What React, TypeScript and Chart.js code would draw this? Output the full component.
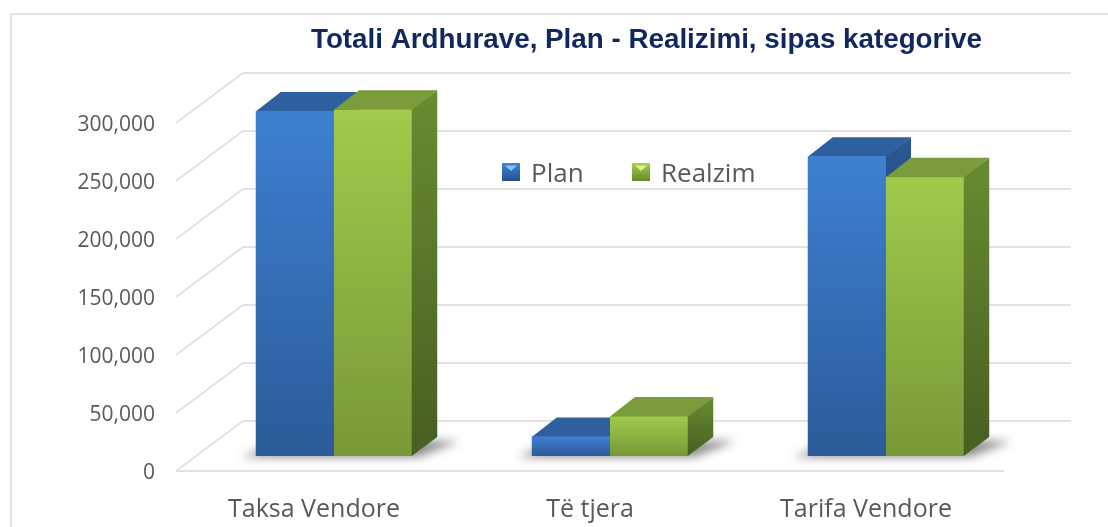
import React, { useEffect, useRef } from "react";
import { Chart, registerables } from "chart.js";

Chart.register(...registerables);

// ---- data ----
const categories = ["Taksa Vendore", "Të tjera", "Tarifa Vendore"];
const seriesNames = ["Plan", "Realzim"];
const planValues = [297500, 16800, 258500];
const realizimValues = [299000, 34500, 240800];
const yTickValues = [0, 50000, 100000, 150000, 200000, 250000, 300000];
const titleText = "Totali Ardhurave, Plan - Realizimi, sipas kategorive";

// ---- layout / style ----
const W = 1108;
const H = 527;
const PLOT = { left: 196, right: 1024, top: 108, bottom: 456 };
const FRONT = { dx: -20, dy: 15 };
const BACK = { dx: 47, dy: -35 };
const DEPTH = { dx: 25, dy: -19 };
const TEXT_FONT = '"Open Sans", "Noto Sans", sans-serif';
const GRID = "#d9d9d9";
const LABEL = "#595959";

const STYLES = [
  {
    front: ["#3d80d2", "#2c5b98"],
    top: "#2e609f",
    side: ["#2a5892", "#1f3f6c"],
    legend: ["#3f86d8", "#24508e"],
    legendHi: "#84c4ff",
  },
  {
    front: ["#a0cb4b", "#779937"],
    top: "#7a9c3b",
    side: ["#688c31", "#475f22"],
    legend: ["#a6cf52", "#66892c"],
    legendHi: "#dcf28a",
  },
];

function frontFill(stops: string[]) {
  return (c: any) => {
    const chart = c.chart;
    if (c.type !== "data" || !chart.chartArea || !chart.scales.y) return stops[0];
    const ys = chart.scales.y;
    const top = ys.getPixelForValue(c.raw as number);
    const bottom = ys.getPixelForValue(0);
    const g = chart.ctx.createLinearGradient(0, top, 0, bottom + 0.01);
    g.addColorStop(0, stops[0]);
    g.addColorStop(1, stops[1]);
    return g;
  };
}

function barGeom(el: any) {
  const p = el.getProps(["x", "y", "base", "width"], true);
  return { l: p.x - p.width / 2, r: p.x + p.width / 2, y: p.y, base: p.base };
}

function drawFaces(chart: any, di: number) {
  const ctx = chart.ctx as CanvasRenderingContext2D;
  const meta = chart.getDatasetMeta(di);
  const st = STYLES[di];
  ctx.save();
  meta.data.forEach((el: any) => {
    const { l, r, y, base } = barGeom(el);
    const side = ctx.createLinearGradient(0, y + DEPTH.dy, 0, base + 0.01);
    side.addColorStop(0, st.side[0]);
    side.addColorStop(1, st.side[1]);
    ctx.fillStyle = side;
    ctx.beginPath();
    ctx.moveTo(r - 0.5, y);
    ctx.lineTo(r + DEPTH.dx, y + DEPTH.dy);
    ctx.lineTo(r + DEPTH.dx, base + DEPTH.dy);
    ctx.lineTo(r - 0.5, base);
    ctx.closePath();
    ctx.fill();
    ctx.fillStyle = st.top;
    ctx.beginPath();
    ctx.moveTo(l, y + 0.5);
    ctx.lineTo(r, y + 0.5);
    ctx.lineTo(r + DEPTH.dx, y + DEPTH.dy);
    ctx.lineTo(l + DEPTH.dx, y + DEPTH.dy);
    ctx.closePath();
    ctx.fill();
  });
  ctx.restore();
}

const threeD = {
  id: "threeD",
  beforeDraw(chart: any) {
    const ctx = chart.ctx as CanvasRenderingContext2D;
    ctx.save();
    ctx.fillStyle = "#ffffff";
    ctx.fillRect(0, 0, W, H);
    ctx.strokeStyle = GRID;
    ctx.lineWidth = 1.5;
    ctx.strokeRect(11, 14, W + 50, H + 50);
    ctx.restore();
  },
  beforeDatasetsDraw(chart: any) {
    const ctx = chart.ctx as CanvasRenderingContext2D;
    const ys = chart.scales.y;
    const { left, right } = chart.chartArea;
    ctx.save();
    ctx.strokeStyle = GRID;
    ctx.lineWidth = 1.5;
    yTickValues.forEach((v) => {
      const py = ys.getPixelForValue(v);
      ctx.beginPath();
      ctx.moveTo(left + FRONT.dx, py + FRONT.dy);
      ctx.lineTo(left + BACK.dx, py + BACK.dy);
      ctx.lineTo(right + BACK.dx, py + BACK.dy);
      ctx.stroke();
    });
    const p0 = ys.getPixelForValue(0);
    ctx.beginPath();
    ctx.moveTo(left + FRONT.dx, p0 + FRONT.dy);
    ctx.lineTo(right + FRONT.dx, p0 + FRONT.dy);
    ctx.stroke();
    ctx.restore();

    // floor shadows
    const m0 = chart.getDatasetMeta(0);
    const m1 = chart.getDatasetMeta(1);
    ctx.save();
    ctx.filter = "blur(5px)";
    ctx.fillStyle = "rgba(0,0,0,0.45)";
    m0.data.forEach((el0: any, j: number) => {
      const a = barGeom(el0);
      const b = barGeom(m1.data[j]);
      const base = a.base;
      ctx.beginPath();
      ctx.moveTo(a.l - 14, base + 1);
      ctx.lineTo(b.r + 6, base + 1);
      ctx.lineTo(b.r + DEPTH.dx + 22, base + DEPTH.dy + 4);
      ctx.lineTo(a.l + DEPTH.dx, base + DEPTH.dy + 4);
      ctx.closePath();
      ctx.fill();
    });
    ctx.restore();

    drawFaces(chart, 0);
  },
  afterDatasetDraw(chart: any, args: any) {
    if (args.index === 1) drawFaces(chart, 1);
  },
  afterDraw(chart: any) {
    const ctx = chart.ctx as CanvasRenderingContext2D;
    // title
    ctx.save();
    ctx.font = 'bold 27px "Liberation Sans Narrow", "Liberation Sans", sans-serif';
    const w = ctx.measureText(titleText).width;
    const sx = 671 / w;
    ctx.translate(646.5, 48);
    ctx.scale(sx, 1);
    ctx.textAlign = "center";
    ctx.textBaseline = "alphabetic";
    ctx.fillStyle = "#11285f";
    ctx.fillText(titleText, 0, 0);
    ctx.restore();

    // legend
    ctx.save();
    chart.data.datasets.forEach((ds: any, i: number) => {
      const st = STYLES[i];
      const s = 18;
      const x0 = 502 + i * 130;
      const y0 = 163;
      const g = ctx.createLinearGradient(0, y0, 0, y0 + s);
      g.addColorStop(0, st.legend[0]);
      g.addColorStop(1, st.legend[1]);
      ctx.fillStyle = g;
      ctx.fillRect(x0, y0, s, s);
      ctx.fillStyle = st.legendHi;
      ctx.beginPath();
      ctx.moveTo(x0 + 3, y0 + 2.5);
      ctx.lineTo(x0 + s - 3, y0 + 2.5);
      ctx.lineTo(x0 + s / 2, y0 + s * 0.45);
      ctx.closePath();
      ctx.fill();
      ctx.font = `26px ${TEXT_FONT}`;
      ctx.fillStyle = LABEL;
      ctx.textAlign = "left";
      ctx.textBaseline = "alphabetic";
      ctx.fillText(ds.label, x0 + 29, 182);
    });
    ctx.restore();
  },
};

export default function App() {
  const ref = useRef<HTMLCanvasElement | null>(null);

  useEffect(() => {
    document.body.style.margin = "0";
    const canvas = ref.current;
    if (!canvas) return;
    const chart = new Chart(canvas, {
      type: "bar",
      data: {
        labels: categories,
        datasets: [
          {
            label: seriesNames[0],
            data: planValues,
            backgroundColor: frontFill(STYLES[0].front),
            borderWidth: 0,
            categoryPercentage: 0.567,
            barPercentage: 1.0,
          },
          {
            label: seriesNames[1],
            data: realizimValues,
            backgroundColor: frontFill(STYLES[1].front),
            borderWidth: 0,
            categoryPercentage: 0.567,
            barPercentage: 1.0,
          },
        ],
      },
      options: {
        responsive: false,
        animation: false,
        devicePixelRatio: 1,
        layout: {
          padding: { left: 0, top: PLOT.top, right: W - PLOT.right, bottom: 0 },
        },
        plugins: {
          legend: { display: false },
          title: { display: false },
          tooltip: { enabled: false },
        },
        scales: {
          x: {
            grid: { display: false, drawTicks: false },
            border: { display: false },
            ticks: {
              color: LABEL,
              font: { family: TEXT_FONT, size: 25 },
              padding: 39,
              labelOffset: FRONT.dx,
              maxRotation: 0,
              autoSkip: false,
            },
            afterFit(s: any) {
              s.height = H - PLOT.bottom;
            },
          },
          y: {
            min: 0,
            max: 300000,
            grid: { display: false, drawTicks: false },
            border: { display: false },
            afterBuildTicks(s: any) {
              s.ticks = yTickValues.map((v) => ({ value: v }));
            },
            ticks: {
              color: LABEL,
              font: { family: TEXT_FONT, size: 21 },
              padding: PLOT.left - 155,
              labelOffset: 17,
              callback: (v: any) => Number(v).toLocaleString("en-US"),
            },
            afterFit(s: any) {
              s.width = PLOT.left;
            },
          },
        },
      },
      plugins: [threeD],
    });
    return () => chart.destroy();
  }, []);

  return (
    <div style={{ width: W, height: H }}>
      <canvas ref={ref} width={W} height={H} style={{ display: "block" }} />
    </div>
  );
}
